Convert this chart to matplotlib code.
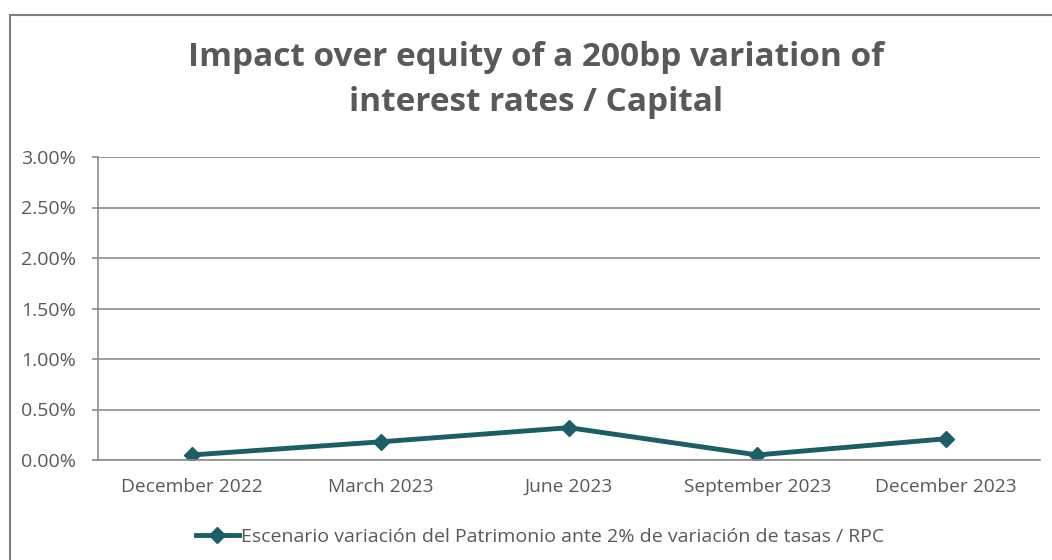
import matplotlib.pyplot as plt
from matplotlib.patches import Rectangle
from matplotlib.ticker import FuncFormatter

plt.rcParams['font.family'] = ['Open Sans', 'DejaVu Sans']

quarters = ['December 2022', 'March 2023', 'June 2023', 'September 2023', 'December 2023']
impact = [0.0005, 0.0018, 0.0032, 0.0005, 0.0021]
series_name = 'Escenario variación del Patrimonio ante 2% de variación de tasas / RPC'

line_color = '#1b5e66'
grey = '#595959'
grid_grey = '#8c8c8c'

fig = plt.figure(figsize=(10.52, 5.6), dpi=100)
W, H = 1052, 560

# chart-area frame (only the top and left edges fall inside the picture)
fig.patches.append(Rectangle((10 / W, -0.1), 1.2, (H - 15) / H + 0.1,
                             transform=fig.transFigure, fill=False,
                             edgecolor='#7f7f7f', linewidth=1.5))

ax = fig.add_axes([98 / W, (H - 460) / H, (1040 - 98) / W, (460 - 157) / H])
x = range(len(quarters))
ax.plot(x, impact, color=line_color, linewidth=3.5, marker='D', markersize=8,
        label=series_name)

ax.set_xlim(-0.5, len(quarters) - 0.5)
ax.set_ylim(0, 0.03)
ax.set_yticks([0, 0.005, 0.01, 0.015, 0.02, 0.025, 0.03])
ax.yaxis.set_major_formatter(FuncFormatter(lambda v, p: f'{v * 100:.2f}%'))
ax.set_xticks(list(x))
ax.set_xticklabels(quarters)
ax.grid(axis='y', color=grid_grey, linewidth=1.2)
ax.set_axisbelow(True)

for side in ['top', 'right']:
    ax.spines[side].set_visible(False)
for side in ['left', 'bottom']:
    ax.spines[side].set_color(grid_grey)
    ax.spines[side].set_linewidth(1.2)

ax.tick_params(axis='y', colors=grid_grey, labelcolor=grey, labelsize=14,
               length=4, width=1.2, pad=12)
ax.tick_params(axis='x', length=0, labelcolor=grey, labelsize=13.8, pad=13)

fig.text(536 / W, (H - 80) / H, 'Impact over equity of a 200bp variation of\ninterest rates / Capital',
         ha='center', va='center', fontsize=24, fontweight='bold', color=grey,
         linespacing=1.5)

ax.legend(loc='center', bbox_to_anchor=(0.469, -0.254),
          frameon=False, fontsize=14, labelcolor=grey, handlelength=2.2,
          handletextpad=0.1)

fig.savefig('out.png', dpi=100)
